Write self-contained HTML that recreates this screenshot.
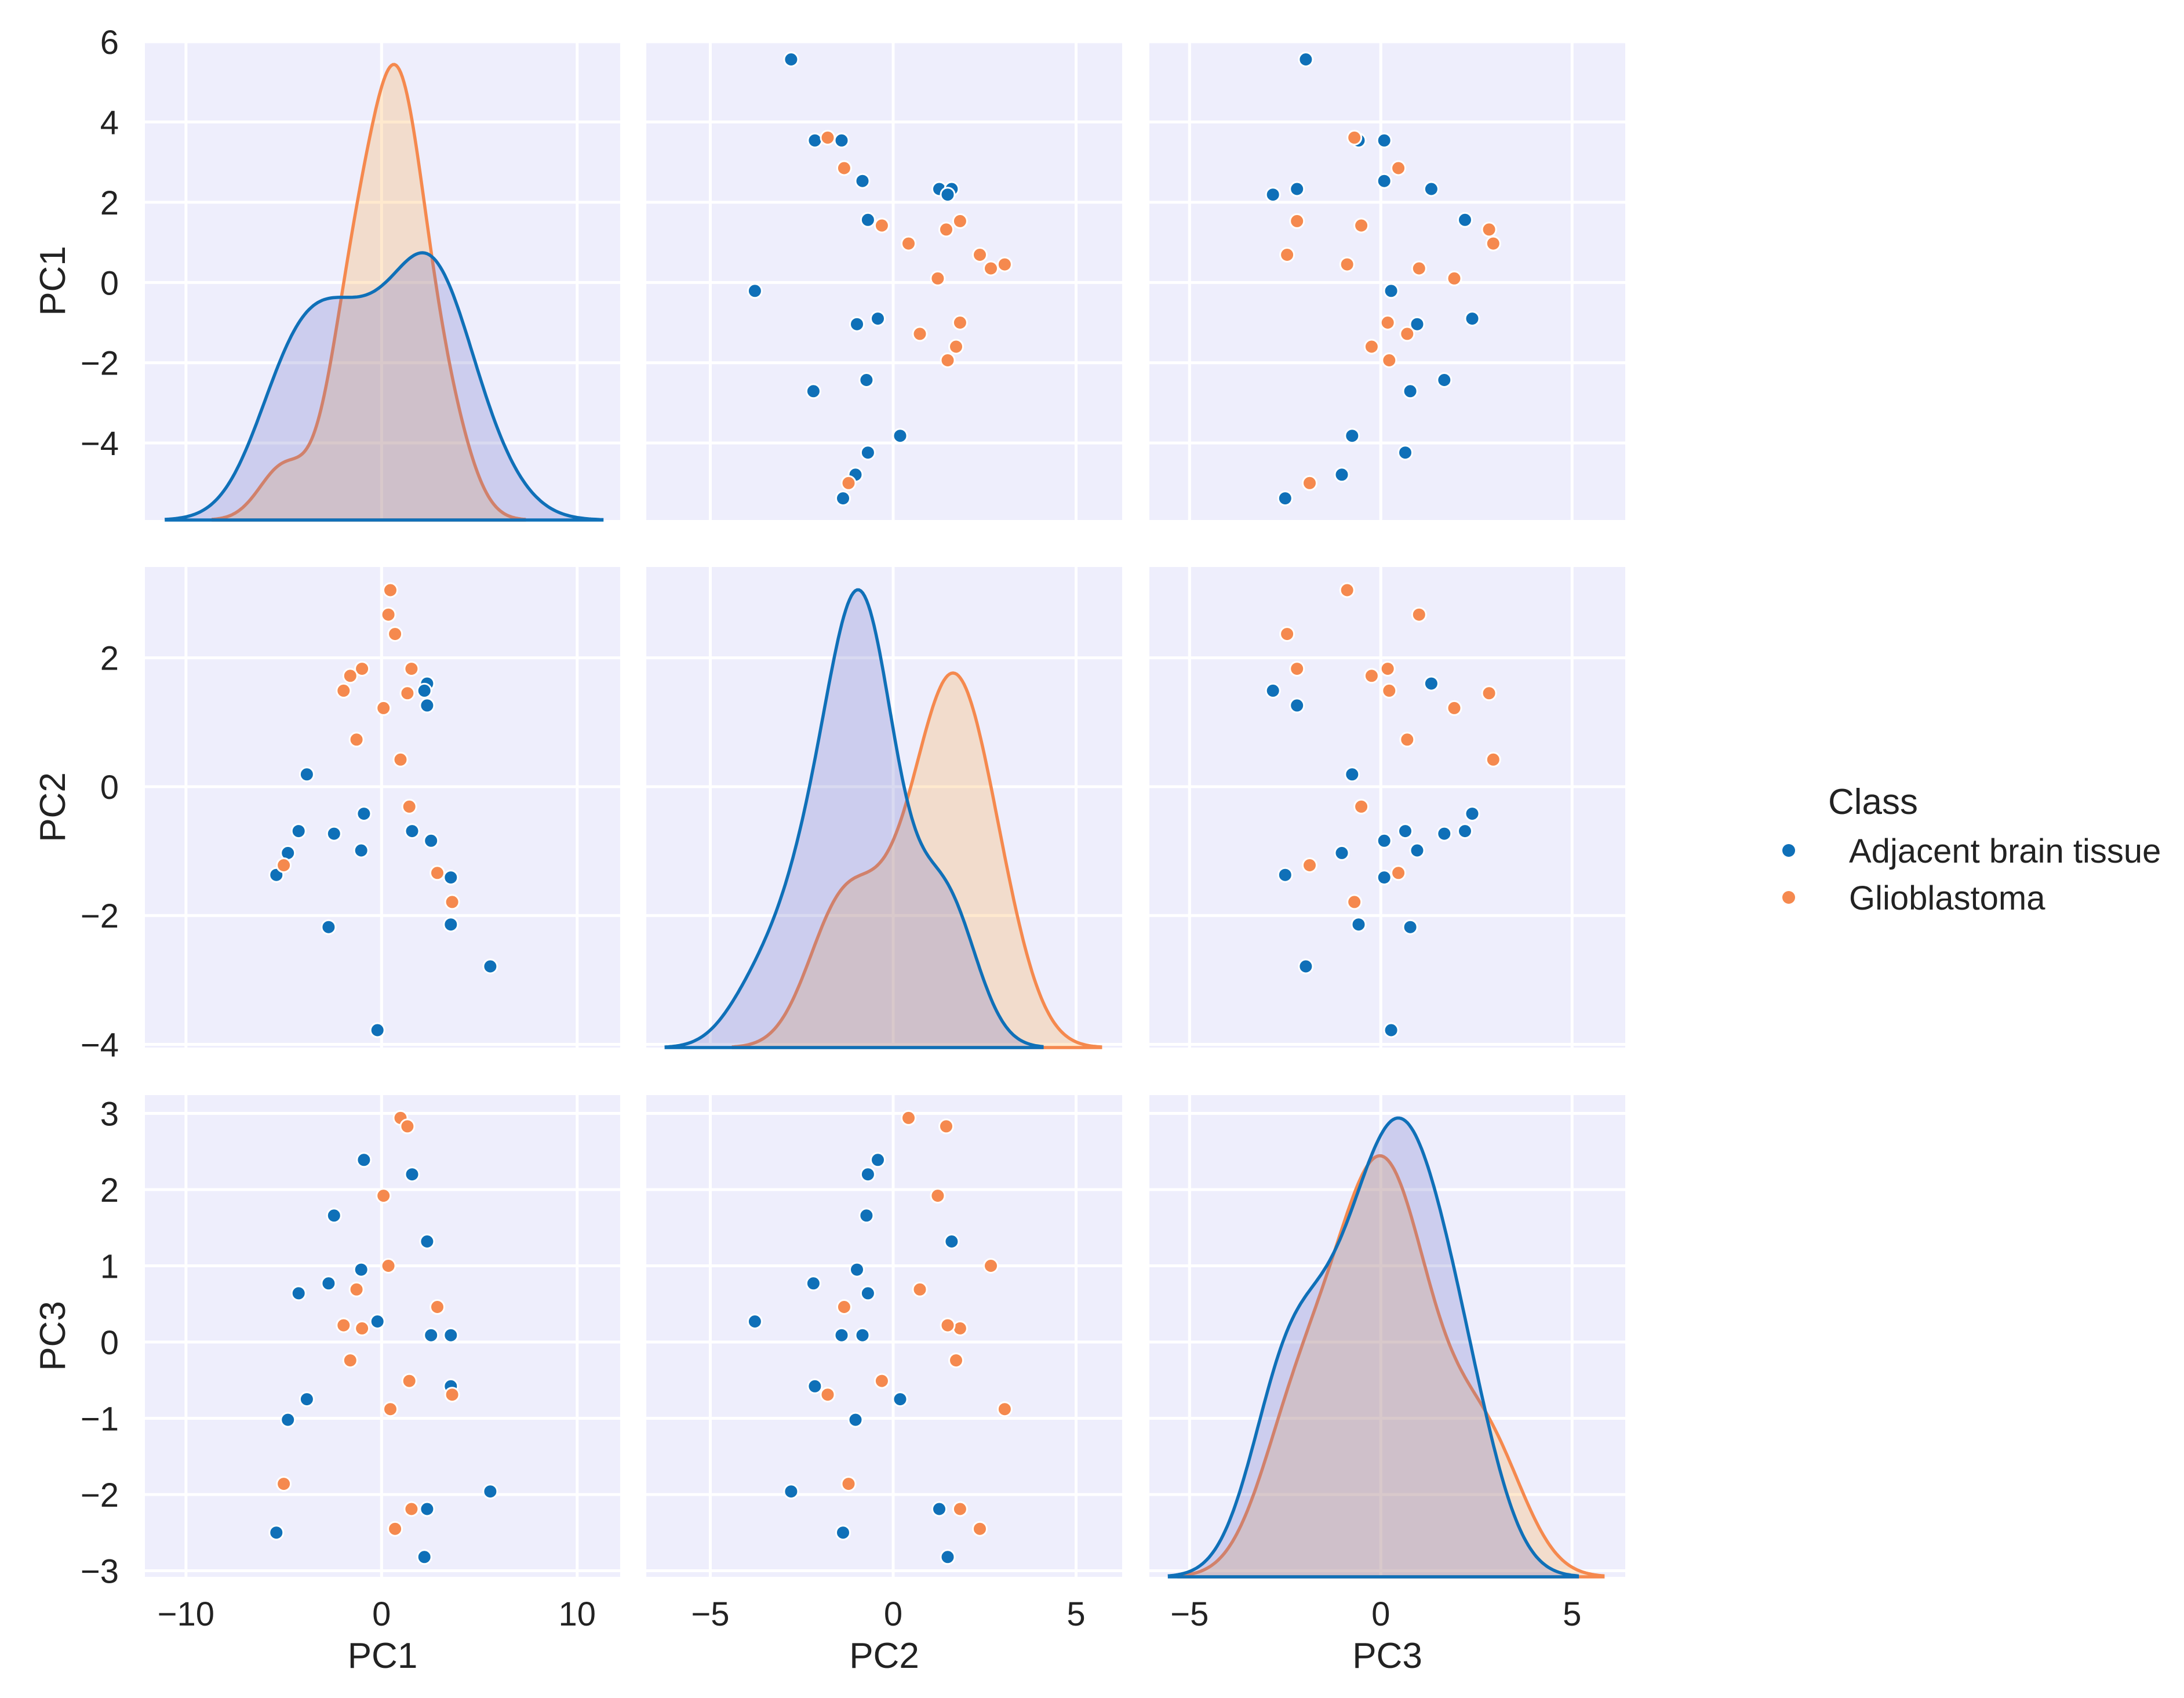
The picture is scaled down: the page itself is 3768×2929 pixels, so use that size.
<!DOCTYPE html>
<html><head><meta charset="utf-8">
<style>
html,body{margin:0;padding:0;background:#fff;}
svg{display:block;font-family:"Liberation Sans",Arial,sans-serif;}
</style></head>
<body>
<svg id="chart" width="3768" height="2929" viewBox="0 0 3768 2929" xmlns="http://www.w3.org/2000/svg">
<rect width="3768" height="2929" fill="#ffffff"/>
<g id="panels"></g>
<g id="legend">
  <text x="3154" y="1404" font-size="62" fill="#222">Class</text>
  <circle cx="3086" cy="1467" r="11" fill="#0f70b8"/>
  <text x="3190" y="1488" font-size="58" fill="#222">Adjacent brain tissue</text>
  <circle cx="3086" cy="1548" r="11" fill="#f5894e"/>
  <text x="3190" y="1569" font-size="58" fill="#222">Glioblastoma</text>
</g>
</svg>
<script>
const varNames = ["PC1","PC2","PC3"];
const blueName = "Adjacent brain tissue";
const orangeName = "Glioblastoma";
const bluePC1 = [5.56,3.54,3.54,2.53,2.33,2.33,2.19,1.56,-0.21,-1.04,-0.9,-2.71,-2.43,-3.82,-4.24,-4.79,-5.38];
const bluePC2 = [-2.79,-2.14,-1.41,-0.84,1.26,1.6,1.49,-0.69,-3.78,-0.99,-0.42,-2.18,-0.73,0.19,-0.69,-1.03,-1.37];
const bluePC3 = [-1.96,-0.58,0.09,0.09,-2.19,1.32,-2.82,2.2,0.27,0.95,2.39,0.77,1.66,-0.75,0.64,-1.02,-2.5];
const orangePC1 = [3.61,2.85,1.42,0.97,1.32,1.53,0.69,0.35,0.45,0.1,-1.28,-1.0,-1.6,-1.94,-5.0];
const orangePC2 = [-1.79,-1.34,-0.31,0.42,1.45,1.83,2.37,2.67,3.05,1.22,0.73,1.83,1.72,1.49,-1.22];
const orangePC3 = [-0.69,0.46,-0.51,2.94,2.83,-2.19,-2.45,1.0,-0.88,1.92,0.69,0.18,-0.24,0.22,-1.86];
const xTicksPC1 = [-10,0,10];
const xTicksPC2 = [-5,0,5];
const xTicksPC3 = [-5,0,5];
const yTicksPC1 = [-4,-2,0,2,4,6];
const yTicksPC2 = [-4,-2,0,2];
const yTicksPC3 = [-3,-2,-1,0,1,2,3];

const NS="http://www.w3.org/2000/svg";
const BLUE="#0f70b8", ORANGE="#f5894e";
const BLUEFILL="#666ac4", ORANGEFILL="#ffa63c";
const cols=[[250,1070],[1115,1936],[1983,2804]];
const rows=[[72,897],[978,1807],[1889,2720]];
const xlims=[[-12.1,12.2],[-6.75,6.26],[-6.05,6.39]];
const ylims=[[-5.92,6.0],[-4.05,3.41],[-3.08,3.24]];
const xTicks=[xTicksPC1,xTicksPC2,xTicksPC3];
const yTicks=[yTicksPC1,yTicksPC2,yTicksPC3];
const blue=[bluePC1,bluePC2,bluePC3];
const orange=[orangePC1,orangePC2,orangePC3];
const root=document.getElementById('panels');
function mk(tag,attrs,parent){const e=document.createElementNS(NS,tag);for(const k in attrs)e.setAttribute(k,attrs[k]);(parent||root).appendChild(e);return e;}
function fmt(v){return v<0?"\u2212"+Math.abs(v):String(v);}
function xs(c,v){const [a,b]=xlims[c],[p,q]=cols[c];return p+(v-a)/(b-a)*(q-p);}
function ys(r,v){const [a,b]=ylims[r],[p,q]=rows[r];return q-(v-a)/(b-a)*(q-p);}
function stats(arr){const n=arr.length;const m=arr.reduce((s,v)=>s+v,0)/n;const sd=Math.sqrt(arr.reduce((s,v)=>s+(v-m)*(v-m),0)/(n-1));return {n,sd,bw:sd*Math.pow(n,-0.2),min:Math.min(...arr),max:Math.max(...arr)};}
function kde(arr,N){const s=stats(arr);const lo=s.min-3*s.bw,hi=s.max+3*s.bw;const pts=[];for(let i=0;i<=200;i++){const x=lo+(hi-lo)*i/200;let d=0;for(const v of arr){const z=(x-v)/s.bw;d+=Math.exp(-0.5*z*z);}d=d/(s.n*s.bw*Math.sqrt(2*Math.PI))*(s.n/N);pts.push([x,d]);}return pts;}

for(let r=0;r<3;r++){
  for(let c=0;c<3;c++){
    const g=mk('g',{});
    
    
    const [x0,x1]=cols[c],[y0,y1]=rows[r];
    const bg=mk('rect',{x:x0,y:y0,width:x1-x0,height:y1-y0,fill:'#eeeefc'},g);
    
    
    for(const t of xTicks[c]){const gl=mk('line',{x1:xs(c,t),x2:xs(c,t),y1:y0,y2:y1,stroke:'#fff','stroke-width':5},g);
      
      }
    for(const t of yTicks[r]){const gl=mk('line',{x1:x0,x2:x1,y1:ys(r,t),y2:ys(r,t),stroke:'#fff','stroke-width':5},g);
      
      }
    if(r===c){
      const N=blue[c].length+orange[c].length;
      const kb=kde(blue[c],N),ko=kde(orange[c],N);
      const mx=Math.max(...kb.map(p=>p[1]),...ko.map(p=>p[1]))*1.05;
      const H=y1-y0;
      const draw=(pts,col,fillCol,name)=>{
        const d=pts.map((p,i)=>(i?'L':'M')+xs(c,p[0]).toFixed(1)+','+(y1-p[1]/mx*H).toFixed(1)).join(' ');
        const f=mk('path',{d:d+' L'+xs(c,pts[pts.length-1][0]).toFixed(1)+','+y1+' L'+xs(c,pts[0][0]).toFixed(1)+','+y1+' Z',fill:fillCol,'fill-opacity':0.25,stroke:'none'},g);
        
        
        const l=mk('path',{d:d+' L'+xs(c,pts[pts.length-1][0]).toFixed(1)+','+y1+' L'+xs(c,pts[0][0]).toFixed(1)+','+y1,fill:'none',stroke:col,'stroke-width':5.5},g);
        
        
      };
      draw(ko,ORANGE,ORANGEFILL,'glioblastoma');
      draw(kb,BLUE,BLUEFILL,'adjacent');
    } else {
      const plot=(set,col,name)=>{for(let i=0;i<set[c].length;i++){
        const p=mk('circle',{cx:xs(c,set[c][i]).toFixed(1),cy:ys(r,set[r][i]).toFixed(1),r:12,fill:col,stroke:'#fff','stroke-width':3},g);
        
        }};
      plot(blue,BLUE,'adjacent');
      plot(orange,ORANGE,'glioblastoma');
    }
  }
  for(const t of yTicks[r]){const tx=mk('text',{x:205,y:ys(r,t)+21,'font-size':58,'text-anchor':'end',fill:'#222'});tx.textContent=fmt(t);
    
    }
  const cy=(rows[r][0]+rows[r][1])/2;
  const yt=mk('text',{x:0,y:0,'font-size':62,'text-anchor':'middle',fill:'#222',transform:'translate(112,'+cy+') rotate(-90)'});
  yt.textContent=varNames[r];
  
  
}
for(let c=0;c<3;c++){
  for(const t of xTicks[c]){const tx=mk('text',{x:xs(c,t),y:2804,'font-size':58,'text-anchor':'middle',fill:'#222'});tx.textContent=fmt(t);
    
    }
  const xt=mk('text',{x:(cols[c][0]+cols[c][1])/2,y:2877,'font-size':62,'text-anchor':'middle',fill:'#222'});
  xt.textContent=varNames[c];
  
  
}
</script>
</body></html>
